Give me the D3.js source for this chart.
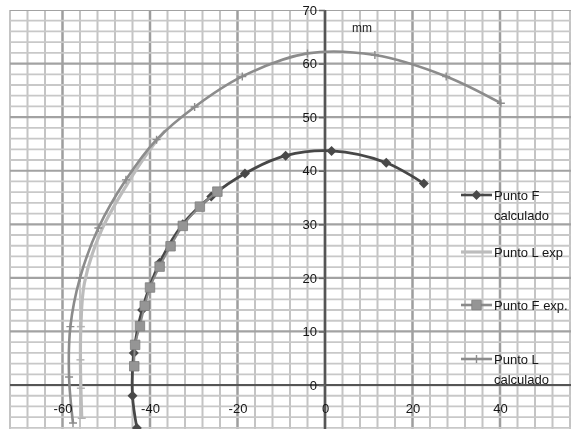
<!DOCTYPE html>
<html>
<head>
<meta charset="utf-8">
<script src="https://cdn.jsdelivr.net/npm/d3@7"></script>
<style>
  body { margin: 0; background: #fff; }
  svg { display: block; font-family: "Liberation Sans", Arial, sans-serif; }
</style>
</head>
<body>
<div id="chart-area"></div>
<script>
const WIDTH = 571;
const HEIGHT = 429;

// series, [x, y] in mm
const puntoFCalculado = [[-43, -8], [-44, -2], [-43.7, 6], [-41.8, 14], [-37.8, 22.8], [-32.5, 30], [-26, 35.2],
    [-18.3, 39.5], [-9, 42.8], [1.5, 43.7], [14, 41.5], [22.6, 37.6]];
const puntoLExp = [[-55.6, -6.2], [-55.8, -0.6], [-55.9, 4.7], [-55.8, 10.9], [-55, 19], [-51.3, 28.5],
    [-45.2, 37.5], [-39.5, 44.5], [-36.5, 47.5]];
const puntoFExp = [[-43.6, 3.5], [-43.4, 7.5], [-42.3, 11], [-41.2, 14.8], [-40, 18.2], [-37.8, 22.1],
    [-35.3, 25.9], [-32.5, 29.7], [-28.6, 33.3], [-24.6, 36.1]];
const puntoLCalculado = [[-57.6, -7.1], [-58.5, 1.5], [-58.2, 10.9], [-56, 20], [-51.8, 29.3], [-45.5, 38.3],
    [-38.5, 45.8], [-29.8, 51.9], [-18.9, 57.6], [-4, 61.9], [11.4, 61.6], [27.7, 57.6], [40.2, 52.6]];

const xTicks = [-60, -40, -20, 0, 20, 40];
const yTicks = [0, 10, 20, 30, 40, 50, 60, 70];
const legendNames = [["Punto F", "calculado"], ["Punto L exp"], ["Punto F exp."], ["Punto L", "calculado"]];

const svg = d3.select('#chart-area')
    .append('svg')
    .attr('width', WIDTH)
    .attr('height', HEIGHT);

const defs = svg.append('defs');
defs.append('filter').attr('id', 'scan')
    .append('feGaussianBlur').attr('stdDeviation', 0.45);
defs.append('clipPath').attr('id', 'plot-clip')
    .append('rect').attr('x', 9).attr('y', 10).attr('width', WIDTH - 9).attr('height', HEIGHT - 10);

const x = d3.scaleLinear().domain([-72, 56]).range([10, 570]);
const y = d3.scaleLinear().domain([-10, 70]).range([438.6, 10]);

const g = svg.append('g').attr('filter', 'url(#scan)');
const plot = g.append('g').attr('clip-path', 'url(#plot-clip)');

// grid: minor every 4 (x) / 2 (y), major every 20 / 10
plot.selectAll('.vgrid')
    .data(d3.range(-72, 57, 4))
    .enter().append('line')
    .attr('x1', d => x(d)).attr('x2', d => x(d))
    .attr('y1', y(70)).attr('y2', HEIGHT)
    .attr('stroke', d => d % 20 === 0 ? '#9e9e9e' : '#c4c4c4')
    .attr('stroke-width', d => d % 20 === 0 ? 2.5 : 2);

plot.selectAll('.hgrid')
    .data(d3.range(-10, 71, 2))
    .enter().append('line')
    .attr('x1', x(-72)).attr('x2', WIDTH)
    .attr('y1', d => y(d)).attr('y2', d => y(d))
    .attr('stroke', d => d % 10 === 0 ? '#a2a2a2' : '#c8c8c8')
    .attr('stroke-width', d => d % 10 === 0 ? 2.2 : 1.8);

// axes lines
plot.append('line')
    .attr('x1', x(-72)).attr('x2', WIDTH)
    .attr('y1', y(0)).attr('y2', y(0))
    .attr('stroke', '#555').attr('stroke-width', 2);
plot.append('line')
    .attr('x1', x(0)).attr('x2', x(0))
    .attr('y1', y(70)).attr('y2', HEIGHT)
    .attr('stroke', '#555').attr('stroke-width', 2.5);

const yAxisGroup = g.append('g')
    .attr('transform', `translate(${x(0)}, 0)`)
    .call(d3.axisLeft(y).tickValues(yTicks).tickSize(6).tickPadding(2).tickFormat(d => String(d)));
const xAxisGroup = g.append('g')
    .attr('transform', `translate(0, ${y(0)})`)
    .call(d3.axisBottom(x).tickValues(xTicks).tickSize(0).tickPadding(19).tickFormat(d => String(d)));

[yAxisGroup, xAxisGroup].forEach(a => {
    a.select('.domain').remove();
    a.selectAll('line').attr('stroke', '#666').attr('stroke-width', 1.5);
    a.selectAll('text')
        .attr('font-size', '13px')
        .attr('font-family', '"Liberation Sans", Arial, sans-serif')
        .attr('fill', '#151515');
});

// top of scan cuts the "70" label
g.append('rect').attr('x', 290).attr('y', 0).attr('width', 40).attr('height', 6).attr('fill', '#fff');

g.append('text')
    .attr('x', 362).attr('y', 32)
    .attr('font-size', '12px')
    .attr('text-anchor', 'middle')
    .attr('fill', '#222')
    .text('mm');

const line = d3.line()
    .x(d => x(d[0]))
    .y(d => y(d[1]))
    .curve(d3.curveCatmullRom);

const series = plot.append('g');

// Punto L exp
series.append('path')
    .attr('d', line(puntoLExp))
    .attr('fill', 'none').attr('stroke', '#bcbcbc').attr('stroke-width', 3.2);
series.selectAll('.lexp-mark')
    .data(puntoLExp.slice(0, 4))
    .enter().append('path')
    .attr('d', d => `M${x(d[0]) - 4},${y(d[1])}H${x(d[0]) + 4}`)
    .attr('stroke', '#b4b4b4').attr('stroke-width', 1.5);

// Punto F calculado
series.append('path')
    .attr('d', line(puntoFCalculado))
    .attr('fill', 'none').attr('stroke', '#474747').attr('stroke-width', 2.8);
series.selectAll('.fcalc-mark')
    .data(puntoFCalculado)
    .enter().append('path')
    .attr('d', d3.symbol().type(d3.symbolSquare).size(50))
    .attr('transform', d => `translate(${x(d[0])}, ${y(d[1])}) rotate(45)`)
    .attr('fill', '#4a4a4a');

// Punto F exp.
series.append('path')
    .attr('d', line(puntoFExp))
    .attr('fill', 'none').attr('stroke', '#8a8a8a').attr('stroke-width', 2);
series.selectAll('.fexp-mark')
    .data(puntoFExp)
    .enter().append('path')
    .attr('d', d3.symbol().type(d3.symbolSquare).size(90))
    .attr('transform', d => `translate(${x(d[0])}, ${y(d[1])})`)
    .attr('fill', '#959595').attr('stroke', '#7e7e7e').attr('stroke-width', 0.8);

// Punto L calculado
series.append('path')
    .attr('d', line(puntoLCalculado))
    .attr('fill', 'none').attr('stroke', '#8c8c8c').attr('stroke-width', 2.6);
series.selectAll('.lcalc-mark')
    .data(puntoLCalculado)
    .enter().append('path')
    .attr('d', d => `M${x(d[0]) - 4},${y(d[1])}H${x(d[0]) + 4}M${x(d[0])},${y(d[1]) - 4}V${y(d[1]) + 4}`)
    .attr('stroke', '#8c8c8c').attr('stroke-width', 1.4);

// legend
const legendY = [195, 252, 305, 359];
const legend = g.append('g');
legendNames.forEach((names, i) => {
    const ly = legendY[i];
    const item = legend.append('g');
    const color = ['#474747', '#bcbcbc', '#8a8a8a', '#8c8c8c'][i];
    item.append('line')
        .attr('x1', 461).attr('x2', 492)
        .attr('y1', ly).attr('y2', ly)
        .attr('stroke', color).attr('stroke-width', i === 1 ? 3.2 : 2.6);
    if (i === 0) {
        item.append('path')
            .attr('d', d3.symbol().type(d3.symbolSquare).size(50))
            .attr('transform', `translate(476.5, ${ly}) rotate(45)`)
            .attr('fill', '#4a4a4a');
    } else if (i === 2) {
        item.append('path')
            .attr('d', d3.symbol().type(d3.symbolSquare).size(90))
            .attr('transform', `translate(476.5, ${ly})`)
            .attr('fill', '#959595').attr('stroke', '#7e7e7e').attr('stroke-width', 0.8);
    } else if (i === 3) {
        item.append('path')
            .attr('d', `M472.5,${ly}H480.5M476.5,${ly - 4}V${ly + 4}`)
            .attr('stroke', '#8c8c8c').attr('stroke-width', 1.4);
    }
    names.forEach((n, j) => {
        item.append('text')
            .attr('x', 494)
            .attr('y', ly + j * 20)
            .attr('dy', '0.35em')
            .attr('font-size', '13px')
            .attr('fill', '#151515')
            .text(n);
    });
});
</script>
</body>
</html>
